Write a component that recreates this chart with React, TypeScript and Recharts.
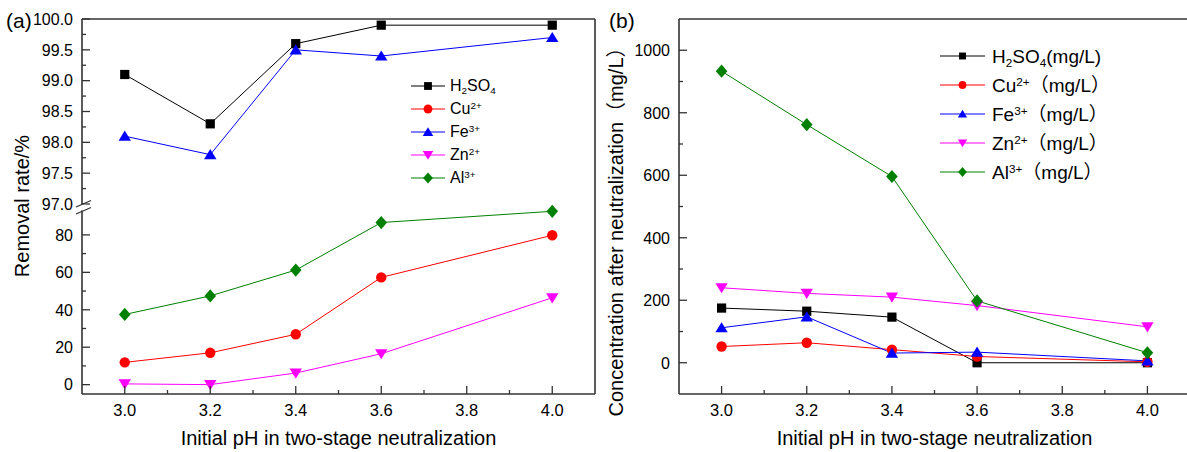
import React from 'react';
import { LineChart, Line, XAxis, YAxis, ReferenceLine, Legend } from 'recharts';

// ---------- data ----------
const PH = [3.0, 3.2, 3.4, 3.6, 4.0];

// (a) removal rate, %
const A_H2SO4 = [99.1, 98.3, 99.6, 99.9, 99.9];
const A_FE = [98.1, 97.8, 99.5, 99.4, 99.7];
const A_CU = [11.9, 17.0, 26.9, 57.3, 79.8];
const A_ZN = [0.4, 0.0, 6.2, 16.5, 46.4];
const A_AL = [37.5, 47.4, 61.2, 86.6, 92.6];

// (b) concentration after neutralization, mg/L
const B_H2SO4 = [175, 165, 146, 0, 0];
const B_CU = [52, 64, 42, 20, 3];
const B_FE = [112, 147, 31, 34, 6];
const B_ZN = [240, 222, 210, 183, 115];
const B_AL = [933, 762, 596, 198, 32];

// ticks
const X_MAJOR = [3.0, 3.2, 3.4, 3.6, 3.8, 4.0];
const X_MINOR = [3.1, 3.3, 3.5, 3.7, 3.9];
const YA_UP_MAJOR = [97.0, 97.5, 98.0, 98.5, 99.0, 99.5, 100.0];
const YA_UP_MINOR = [97.25, 97.75, 98.25, 98.75, 99.25, 99.75];
const YA_LOW_MAJOR = [0, 20, 40, 60, 80];
const YA_LOW_MINOR = [10, 30, 50, 70];
const YB_MAJOR = [0, 200, 400, 600, 800, 1000];
const YB_MINOR = [100, 300, 500, 700, 900];

const X_DOMAIN: [number, number] = [2.9, 4.1];
const YA_UP_DOMAIN: [number, number] = [97, 100];
const YA_LOW_DOMAIN: [number, number] = [-5, 96.5];
const YB_DOMAIN: [number, number] = [-100, 1100];

const X_TITLE = 'Initial pH in two-stage neutralization';
const YA_TITLE = 'Removal rate/%';
const YB_TITLE = 'Concentration after neutralization（mg/L）';

const ROWS = PH.map((ph, i) => ({
  ph,
  aH2SO4: A_H2SO4[i],
  aFe: A_FE[i],
  aCu: A_CU[i],
  aZn: A_ZN[i],
  aAl: A_AL[i],
  bH2SO4: B_H2SO4[i],
  bCu: B_CU[i],
  bFe: B_FE[i],
  bZn: B_ZN[i],
  bAl: B_AL[i],
}));

// ---------- styles ----------
const FONT = '"Liberation Sans", Arial, "Noto Sans CJK SC", sans-serif';
const AXIS = '#333';
const AXIS_LINE = { stroke: AXIS, strokeWidth: 1.6 };
const C_BLACK = '#000000';
const C_RED = '#ff0000';
const C_BLUE = '#0000ff';
const C_MAG = '#ff00ff';
const C_GREEN = '#008000';

type Shape = 'square' | 'circle' | 'up' | 'down' | 'diamond';

function Marker({ cx, cy, shape, color, k = 1 }: { cx: number; cy: number; shape: Shape; color: string; k?: number }) {
  switch (shape) {
    case 'square': {
      const h = 4.6 * k;
      return <rect x={cx - h} y={cy - h} width={2 * h} height={2 * h} fill={color} />;
    }
    case 'circle':
      return <circle cx={cx} cy={cy} r={5.2 * k} fill={color} />;
    case 'up':
      return (
        <polygon
          points={`${cx},${cy - 5.6 * k} ${cx + 6.2 * k},${cy + 4.6 * k} ${cx - 6.2 * k},${cy + 4.6 * k}`}
          fill={color}
        />
      );
    case 'down':
      return (
        <polygon
          points={`${cx},${cy + 5.6 * k} ${cx + 6.2 * k},${cy - 4.6 * k} ${cx - 6.2 * k},${cy - 4.6 * k}`}
          fill={color}
        />
      );
    default:
      return (
        <polygon
          points={`${cx},${cy - 6.6 * k} ${cx + 5.8 * k},${cy} ${cx},${cy + 6.6 * k} ${cx - 5.8 * k},${cy}`}
          fill={color}
        />
      );
  }
}

const dotOf = (shape: Shape, color: string) => (p: any) => {
  if (p == null || p.cx == null || p.cy == null) return <g key={`e${p?.index}`} />;
  return <Marker key={`m${p.index}`} cx={p.cx} cy={p.cy} shape={shape} color={color} />;
};

const makeYTick = (majors: number[], fmt: (v: number) => string) => (props: any) => {
  const { x, y, payload } = props;
  const v = payload.value as number;
  const isMajor = majors.includes(v);
  return (
    <g>
      <line x1={x} y1={y} x2={x + (isMajor ? 8 : 4)} y2={y} stroke={AXIS} strokeWidth={1.3} />
      {isMajor && (
        <text x={x - 9} y={y} dy="0.36em" textAnchor="end" fontSize={16} fill="#000" fontFamily={FONT}>
          {fmt(v)}
        </text>
      )}
    </g>
  );
};

const XTick = (props: any) => {
  const { x, y, payload } = props;
  const v = payload.value as number;
  const isMajor = X_MAJOR.includes(v);
  return (
    <g>
      <line x1={x} y1={y} x2={x} y2={y - (isMajor ? 8 : 4)} stroke={AXIS} strokeWidth={1.3} />
      {isMajor && (
        <text x={x} y={y + 22} textAnchor="middle" fontSize={16.5} fill="#000" fontFamily={FONT}>
          {v.toFixed(1)}
        </text>
      )}
    </g>
  );
};

const subStyle: React.CSSProperties = { fontSize: '0.62em', verticalAlign: '-0.3em', lineHeight: 0 };
const supStyle: React.CSSProperties = { fontSize: '0.62em', verticalAlign: '0.55em', lineHeight: 0 };

const LEG_A = [
  { key: 'h', color: C_BLACK, shape: 'square' as Shape, label: <>H<span style={subStyle}>2</span>SO<span style={subStyle}>4</span></> },
  { key: 'c', color: C_RED, shape: 'circle' as Shape, label: <>Cu<span style={supStyle}>2+</span></> },
  { key: 'f', color: C_BLUE, shape: 'up' as Shape, label: <>Fe<span style={supStyle}>3+</span></> },
  { key: 'z', color: C_MAG, shape: 'down' as Shape, label: <>Zn<span style={supStyle}>2+</span></> },
  { key: 'a', color: C_GREEN, shape: 'diamond' as Shape, label: <>Al<span style={supStyle}>3+</span></> },
];

const LEG_B = [
  { key: 'h', color: C_BLACK, shape: 'square' as Shape, label: <>H<span style={subStyle}>2</span>SO<span style={subStyle}>4</span>(mg/L)</> },
  { key: 'c', color: C_RED, shape: 'circle' as Shape, label: <>Cu<span style={supStyle}>2+</span>（mg/L）</> },
  { key: 'f', color: C_BLUE, shape: 'up' as Shape, label: <>Fe<span style={supStyle}>3+</span>（mg/L）</> },
  { key: 'z', color: C_MAG, shape: 'down' as Shape, label: <>Zn<span style={supStyle}>2+</span>（mg/L）</> },
  { key: 'a', color: C_GREEN, shape: 'diamond' as Shape, label: <>Al<span style={supStyle}>3+</span>（mg/L）</> },
];

function LegendBox({ items, rowH, lineW, gap, fontSize, k }: any) {
  return (
    <div style={{ fontFamily: FONT, fontSize, color: '#000' }}>
      {items.map((it: any) => (
        <div key={it.key} style={{ display: 'flex', alignItems: 'center', height: rowH }}>
          <svg width={lineW} height={16} style={{ overflow: 'visible', flex: 'none' }}>
            <line x1={0} y1={8} x2={lineW} y2={8} stroke={it.color} strokeWidth={1} />
            <Marker cx={lineW / 2} cy={8} shape={it.shape} color={it.color} k={k} />
          </svg>
          <span style={{ marginLeft: gap, whiteSpace: 'nowrap', lineHeight: 1 }}>{it.label}</span>
        </div>
      ))}
    </div>
  );
}

const sortNum = (a: number[]) => [...a].sort((p, q) => p - q);

const lineProps = { type: 'linear' as const, strokeWidth: 1, activeDot: false as const, isAnimationActive: false };

export default function App() {
  return (
    <div
      style={{
        position: 'absolute',
        left: 0,
        top: 0,
        width: 1187,
        height: 452,
        overflow: 'hidden',
        background: '#fff',
        fontFamily: FONT,
      }}
    >
      {/* Panel (a), lower segment */}
      <div style={{ position: 'absolute', left: 0, top: 0 }}>
        <LineChart width={600} height={452} data={ROWS} margin={{ top: 204, right: 5, left: 0, bottom: 28 }}>
          <XAxis
            dataKey="ph"
            type="number"
            domain={X_DOMAIN}
            ticks={sortNum([...X_MAJOR, ...X_MINOR])}
            interval={0}
            height={30}
            tickSize={0}
            tickMargin={0}
            tickLine={false}
            axisLine={AXIS_LINE}
            tick={XTick}
            label={{ value: X_TITLE, position: 'bottom', offset: 7, style: { fontSize: 20, fill: '#000', fontFamily: FONT } }}
          />
          <YAxis
            type="number"
            domain={YA_LOW_DOMAIN}
            ticks={sortNum([...YA_LOW_MAJOR, ...YA_LOW_MINOR])}
            interval={0}
            width={82}
            tickSize={0}
            tickMargin={0}
            tickLine={false}
            axisLine={AXIS_LINE}
            tick={makeYTick(YA_LOW_MAJOR, (v) => String(v))}
          />
          <ReferenceLine x={4.1} stroke={AXIS} strokeWidth={1.6} />
          <Line {...lineProps} dataKey="aCu" stroke={C_RED} dot={dotOf('circle', C_RED)} />
          <Line {...lineProps} dataKey="aZn" stroke={C_MAG} dot={dotOf('down', C_MAG)} />
          <Line {...lineProps} dataKey="aAl" stroke={C_GREEN} dot={dotOf('diamond', C_GREEN)} />
        </LineChart>
      </div>

      {/* Panel (a), upper segment */}
      <div style={{ position: 'absolute', left: 0, top: 0 }}>
        <LineChart width={600} height={218} data={ROWS} margin={{ top: 19, right: 5, left: 0, bottom: 14 }}>
          <XAxis dataKey="ph" type="number" domain={X_DOMAIN} hide height={0} />
          <YAxis
            type="number"
            domain={YA_UP_DOMAIN}
            ticks={sortNum([...YA_UP_MAJOR, ...YA_UP_MINOR])}
            interval={0}
            width={82}
            tickSize={0}
            tickMargin={0}
            tickLine={false}
            axisLine={AXIS_LINE}
            tick={makeYTick(YA_UP_MAJOR, (v) => v.toFixed(1))}
          />
          <ReferenceLine y={100} stroke={AXIS} strokeWidth={1.6} />
          <ReferenceLine x={4.1} stroke={AXIS} strokeWidth={1.6} />
          <Line {...lineProps} dataKey="aH2SO4" stroke={C_BLACK} dot={dotOf('square', C_BLACK)} />
          <Line {...lineProps} dataKey="aFe" stroke={C_BLUE} dot={dotOf('up', C_BLUE)} />
          <Legend
            layout="vertical"
            align="center"
            verticalAlign="middle"
            wrapperStyle={{ left: 411, top: 74.5, width: 'auto' }}
            content={() => <LegendBox items={LEG_A} rowH={23.1} lineW={34} gap={5} fontSize={16} k={0.85} />}
          />
        </LineChart>
      </div>

      {/* Panel (b) */}
      <div style={{ position: 'absolute', left: 590, top: 0 }}>
        <LineChart width={610} height={452} data={ROWS} margin={{ top: 19, right: 10, left: 0, bottom: 28 }}>
          <XAxis
            dataKey="ph"
            type="number"
            domain={X_DOMAIN}
            ticks={sortNum([...X_MAJOR, ...X_MINOR])}
            interval={0}
            height={30}
            tickSize={0}
            tickMargin={0}
            tickLine={false}
            axisLine={AXIS_LINE}
            tick={XTick}
            label={{ value: X_TITLE, position: 'bottom', offset: 7, style: { fontSize: 20, fill: '#000', fontFamily: FONT } }}
          />
          <YAxis
            type="number"
            domain={YB_DOMAIN}
            ticks={sortNum([...YB_MAJOR, ...YB_MINOR])}
            interval={0}
            width={89}
            tickSize={0}
            tickMargin={0}
            tickLine={false}
            axisLine={AXIS_LINE}
            tick={makeYTick(YB_MAJOR, (v) => String(v))}
          />
          <ReferenceLine y={1100} stroke={AXIS} strokeWidth={1.6} />
          <ReferenceLine x={4.1} stroke={AXIS} strokeWidth={1.6} />
          <Line {...lineProps} dataKey="bH2SO4" stroke={C_BLACK} dot={dotOf('square', C_BLACK)} />
          <Line {...lineProps} dataKey="bCu" stroke={C_RED} dot={dotOf('circle', C_RED)} />
          <Line {...lineProps} dataKey="bFe" stroke={C_BLUE} dot={dotOf('up', C_BLUE)} />
          <Line {...lineProps} dataKey="bZn" stroke={C_MAG} dot={dotOf('down', C_MAG)} />
          <Line {...lineProps} dataKey="bAl" stroke={C_GREEN} dot={dotOf('diamond', C_GREEN)} />
          <Legend
            layout="vertical"
            align="center"
            verticalAlign="middle"
            wrapperStyle={{ left: 350, top: 41.5, width: 'auto' }}
            content={() => <LegendBox items={LEG_B} rowH={29} lineW={45} gap={7} fontSize={19} k={0.75} />}
          />
        </LineChart>
      </div>

      {/* titles, panel letters and axis break */}
      <svg width={1187} height={452} style={{ position: 'absolute', left: 0, top: 0, pointerEvents: 'none' }}>
        <text x={6} y={28} fontSize={21} fill="#000" fontFamily={FONT}>(a)</text>
        <text x={609} y={28} fontSize={21} fill="#000" fontFamily={FONT}>(b)</text>
        <text
          x={21.7}
          y={206}
          dy="0.35em"
          textAnchor="middle"
          fontSize={20}
          fill="#000"
          fontFamily={FONT}
          transform="rotate(-90 21.7 206)"
        >
          {YA_TITLE}
        </text>
        <text
          x={616}
          y={227}
          dy="0.35em"
          textAnchor="middle"
          fontSize={20}
          fill="#000"
          fontFamily={FONT}
          transform="rotate(-90 616 227)"
        >
          {YB_TITLE}
        </text>
        <rect x={79} y={204.8} width={7} height={5.6} fill="#fff" />
        <line x1={76} y1={207} x2={91} y2={200.5} stroke={AXIS} strokeWidth={1.3} />
        <line x1={76} y1={214} x2={91} y2={207.5} stroke={AXIS} strokeWidth={1.3} />
      </svg>
    </div>
  );
}
